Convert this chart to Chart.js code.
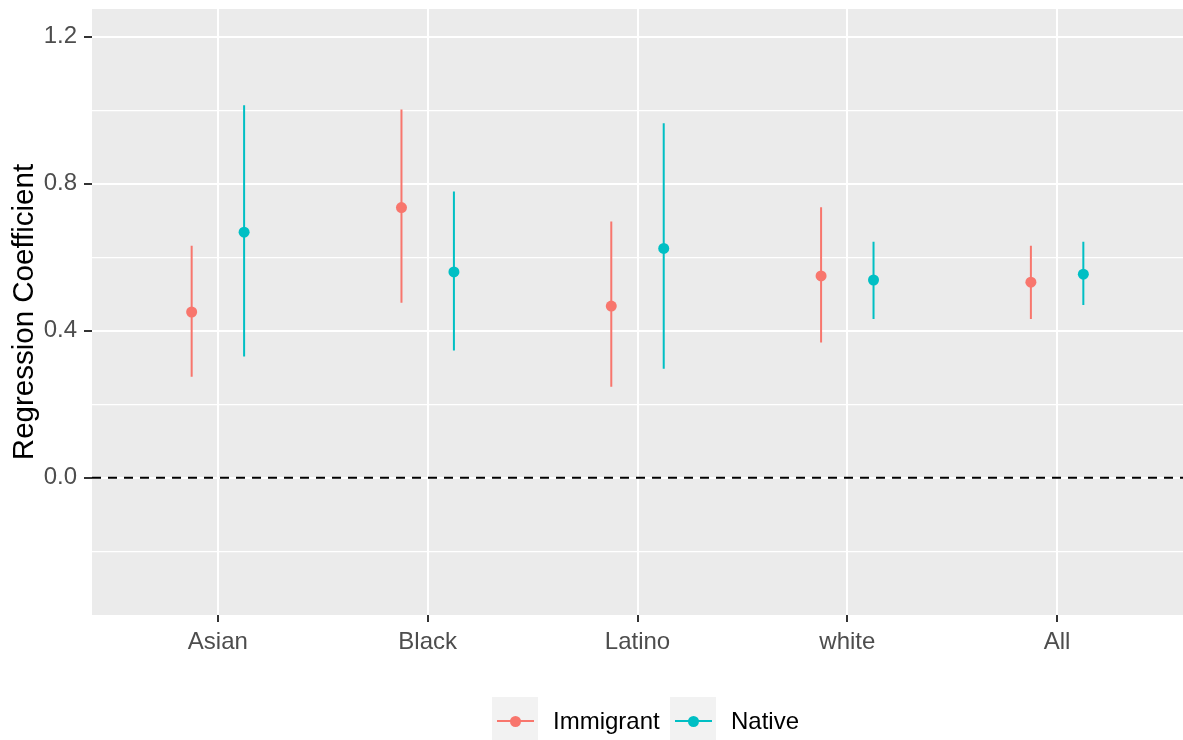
<!DOCTYPE html>
<html>
<head>
<meta charset="utf-8">
<title>Regression Coefficient by group</title>
<script src="https://cdn.jsdelivr.net/npm/chart.js@4/dist/chart.umd.min.js"></script>
<style>
  html, body { margin: 0; padding: 0; background: #fff; }
  #wrap { position: relative; width: 1183px; height: 740px; font-family: "Liberation Sans", Arial, sans-serif; }
  #chart { position: absolute; left: 0; top: 0; }
  .key { position: absolute; top: 697px; width: 46px; height: 43px; background: #F2F2F2; }
  .key .ln { position: absolute; left: 5px; top: 23px; width: 37px; height: 2px; }
  .key .dot { position: absolute; left: 18px; top: 18.5px; width: 11px; height: 11px; border-radius: 50%; }
  .lab { position: absolute; top: 707px; font-size: 24px; line-height: 28px; color: #000; white-space: nowrap; }
</style>
</head>
<body>
<div id="wrap">
  <canvas id="chart" width="1183" height="740"></canvas>
  <div class="key" style="left:492px"><div class="ln" style="background:#F8766D"></div><div class="dot" style="background:#F8766D"></div></div>
  <div class="lab" style="left:553px">Immigrant</div>
  <div class="key" style="left:670px"><div class="ln" style="background:#00BFC4"></div><div class="dot" style="background:#00BFC4"></div></div>
  <div class="lab" style="left:731px">Native</div>
</div>
<script>
// data
const categories = ['Asian', 'Black', 'Latino', 'white', 'All'];

const immigrantEst  = [0.451, 0.735, 0.467, 0.549, 0.532];
const immigrantLow  = [0.275, 0.476, 0.248, 0.368, 0.432];
const immigrantHigh = [0.631, 1.002, 0.697, 0.736, 0.631];

const nativeEst  = [0.668, 0.560, 0.624, 0.538, 0.554];
const nativeLow  = [0.330, 0.346, 0.297, 0.432, 0.470];
const nativeHigh = [1.013, 0.779, 0.964, 0.642, 0.642];

const refLine = 0;

const yTicks = [-0.2, 0, 0.2, 0.4, 0.6, 0.8, 1.0, 1.2];
const yMajor = [0, 0.4, 0.8, 1.2];
const yMajorLabels = ['0.0', '0.4', '0.8', '1.2'];

const IMM = '#F8766D';
const NAT = '#00BFC4';
const dodge = 0.125;
const xMin = 0.4, xMax = 5.6;
const FONT = '"Liberation Sans", Arial, sans-serif';

function isMajor(v) {
  return yMajor.some(m => Math.abs(m - v) < 1e-6);
}

function points(est, off) {
  return est.map((v, i) => ({ x: i + 1 + off, y: v }));
}

// vertical segments, broken with nulls
function bars(lo, hi, off) {
  const out = [];
  lo.forEach((v, i) => {
    out.push({ x: i + 1 + off, y: v });
    out.push({ x: i + 1 + off, y: hi[i] });
    out.push({ x: i + 1 + off, y: null });
  });
  return out;
}

const panelBg = {
  id: 'panelBg',
  beforeDraw(chart) {
    const a = chart.chartArea;
    const ctx = chart.ctx;
    ctx.save();
    ctx.fillStyle = '#EBEBEB';
    ctx.fillRect(a.left, a.top, a.right - a.left, a.bottom - a.top);
    ctx.restore();
  }
};

const lineDs = (label, data, color) => ({
  type: 'line', label, data, borderColor: color, borderWidth: 2,
  pointRadius: 0, spanGaps: false, fill: false, borderCapStyle: 'butt', order: 2
});

const pointDs = (label, data, color) => ({
  type: 'scatter', label, data, backgroundColor: color, borderWidth: 0,
  pointRadius: 5.5, showLine: false, order: 1
});

new Chart(document.getElementById('chart'), {
  type: 'scatter',
  data: {
    datasets: [
      {
        type: 'line', label: 'zero',
        data: [{ x: xMin, y: refLine }, { x: xMax, y: refLine }],
        borderColor: '#000', borderWidth: 2, borderDash: [9, 7],
        pointRadius: 0, fill: false, order: 3
      },
      lineDs('Immigrant CI', bars(immigrantLow, immigrantHigh, -dodge), IMM),
      lineDs('Native CI', bars(nativeLow, nativeHigh, dodge), NAT),
      pointDs('Immigrant', points(immigrantEst, -dodge), IMM),
      pointDs('Native', points(nativeEst, dodge), NAT)
    ]
  },
  options: {
    responsive: false,
    animation: false,
    events: [],
    layout: { autoPadding: false, padding: { left: 0, right: 0, top: 9, bottom: 65 } },
    plugins: { legend: { display: false }, tooltip: { enabled: false } },
    scales: {
      x: {
        type: 'linear', min: xMin, max: xMax,
        afterBuildTicks: s => { s.ticks = categories.map((c, i) => ({ value: i + 1 })); },
        afterFit: s => { s.height = 60; s.paddingLeft = 0; s.paddingRight = 0; },
        ticks: {
          callback: v => categories[Math.round(v) - 1],
          color: '#4D4D4D', font: { family: FONT, size: 24 },
          padding: 6, maxRotation: 0, autoSkip: false
        },
        grid: { color: '#FFFFFF', lineWidth: 2, tickColor: '#333333', tickLength: 7, tickWidth: 2 },
        border: { display: false }
      },
      y: {
        type: 'linear', min: -0.373, max: 1.275,
        afterBuildTicks: s => { s.ticks = yTicks.map(v => ({ value: v })); },
        afterFit: s => { s.width = 92; s.paddingTop = 0; s.paddingBottom = 0; },
        ticks: {
          callback: v => {
            const k = yMajor.findIndex(m => Math.abs(m - v) < 1e-6);
            return k >= 0 ? yMajorLabels[k] : '';
          },
          color: '#4D4D4D', font: { family: FONT, size: 24 },
          padding: 7, autoSkip: false
        },
        grid: {
          color: '#FFFFFF',
          lineWidth: c => isMajor(c.tick.value) ? 2 : 1.2,
          tickColor: c => isMajor(c.tick.value) ? '#333333' : 'rgba(0,0,0,0)',
          tickLength: 8, tickWidth: 2
        },
        border: { display: false },
        title: {
          display: true, text: 'Regression Coefficient', color: '#000',
          font: { family: FONT, size: 29.5, weight: 'normal' },
          padding: { top: 7, bottom: 0 }
        }
      }
    }
  },
  plugins: [panelBg]
});
</script>
</body>
</html>
